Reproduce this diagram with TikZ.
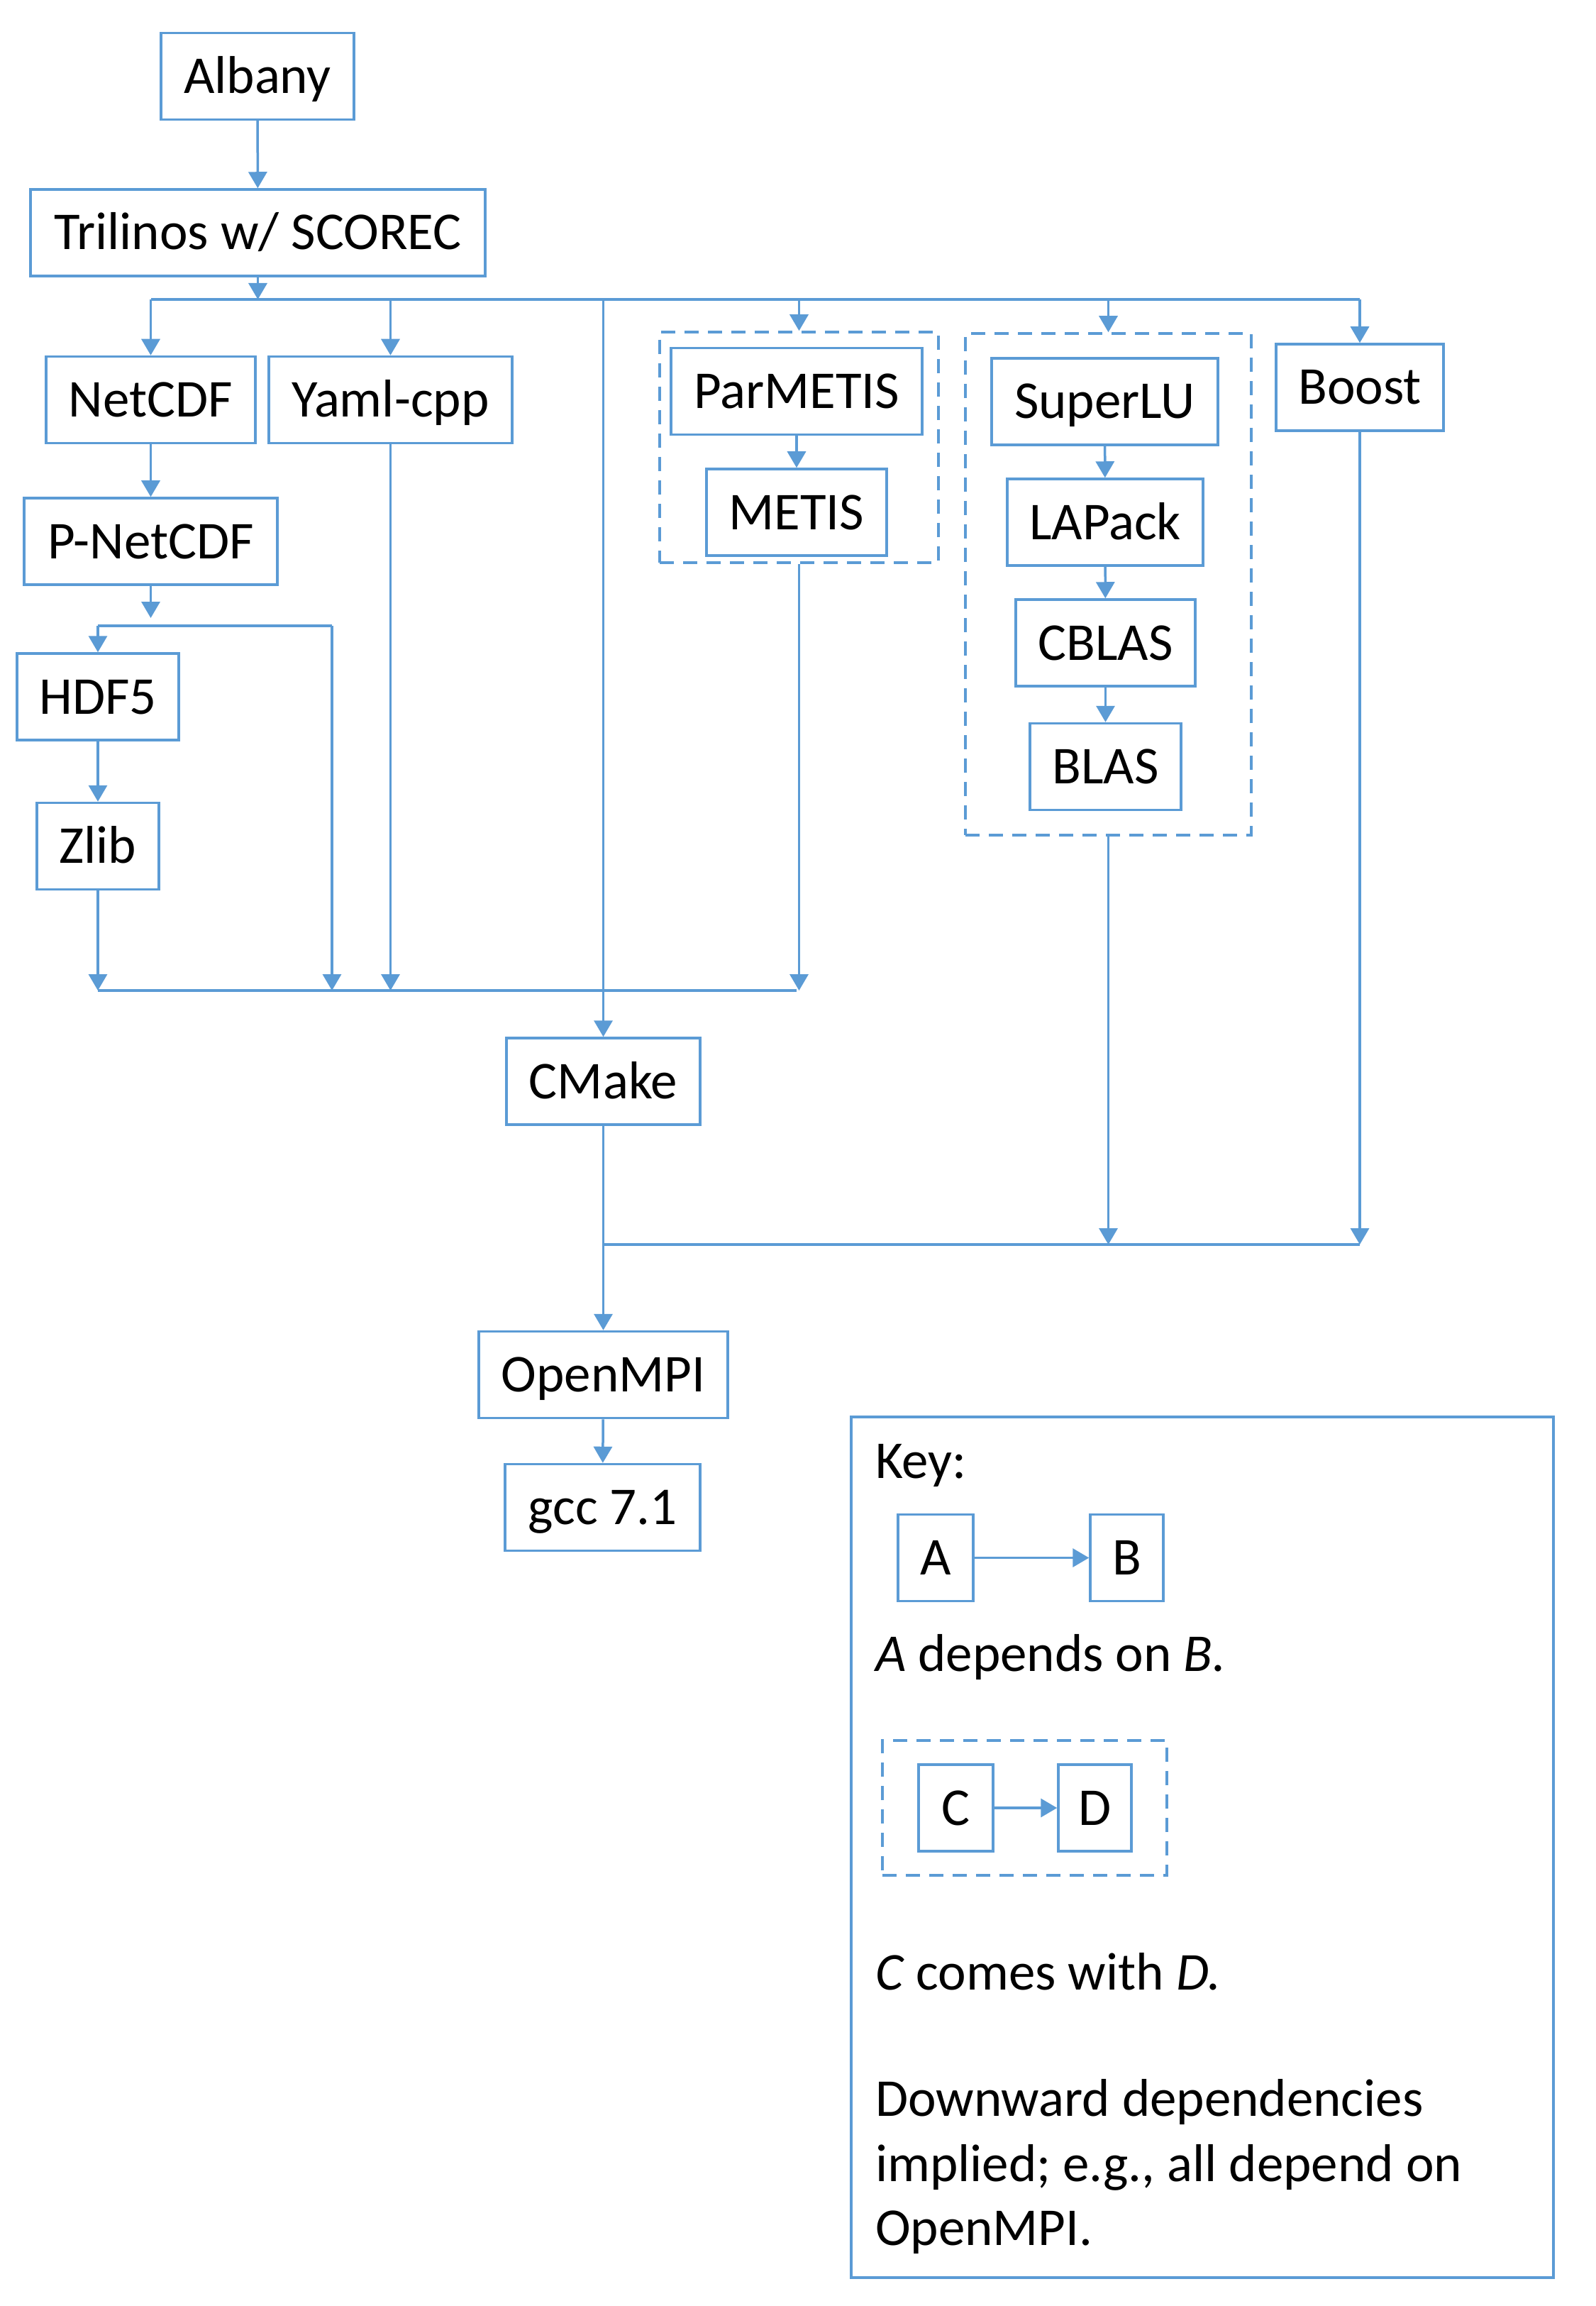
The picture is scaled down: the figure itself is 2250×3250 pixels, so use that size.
\documentclass[tikz,border=0pt]{standalone}
\usepackage{fontspec}
\setmainfont{Carlito}
\usetikzlibrary{arrows.meta}
\definecolor{kblue}{RGB}{91,155,213}
\tikzset{
  pkg/.style={draw=kblue, line width=0.7pt, inner sep=0pt, minimum height=24.4pt,
    font=\fontsize{15}{18}\selectfont, text height=9.6pt, text depth=0pt, fill=white},
  grp/.style={draw=kblue, line width=0.7pt, dash pattern=on 4pt off 2.6pt, inner sep=0pt},
  conn/.style={draw=kblue, line width=0.7pt},
  arr/.style={conn, -{Triangle[length=4.6pt,width=5.2pt]}},
  keytext/.style={anchor=base west, inner sep=0pt, font=\fontsize{15}{18}\selectfont}
}
\begin{document}
\begin{tikzpicture}[x=0.2pt,y=-0.2pt]
\fill[white] (0,0) rectangle (2250,3250);
\useasboundingbox (0,0) rectangle (2250,3250);

% groups (dashed)
\node[grp, minimum width=78.6pt, minimum height=65pt] (g1) at (1126.5,630.5) {};
\node[grp, minimum width=80.6pt, minimum height=141.4pt] (g2) at (1562.5,823.5) {};

% packages
\node[pkg, minimum width=54.4pt] (albany) at (363,107.5) {Albany};
\node[pkg, minimum width=128.2pt] (trilinos) at (363.5,328) {Trilinos w/ SCOREC};
\node[pkg, minimum width=59pt] (netcdf) at (212.5,563.5) {NetCDF};
\node[pkg, minimum width=68.6pt] (yaml) at (550.5,563.5) {Yaml-cpp};
\node[pkg, minimum width=71.4pt] (pnetcdf) at (212.5,763) {P-NetCDF};
\node[pkg, minimum width=45.6pt] (hdf5) at (138,982) {HDF5};
\node[pkg, minimum width=34.4pt] (zlib) at (138,1192.5) {Zlib};
\node[pkg, minimum width=70.8pt] (parmetis) at (1123,551.5) {ParMETIS};
\node[pkg, minimum width=50.8pt] (metis) at (1123,722) {METIS};
\node[pkg, minimum width=63.8pt] (superlu) at (1557.5,566) {SuperLU};
\node[pkg, minimum width=55.2pt] (lapack) at (1558,736) {LAPack};
\node[pkg, minimum width=50.6pt] (cblas) at (1558.5,906) {CBLAS};
\node[pkg, minimum width=42.6pt] (blas) at (1558.5,1080.5) {BLAS};
\node[pkg, minimum width=47.2pt] (boost) at (1917,546) {Boost};
\node[pkg, minimum width=54.6pt] (cmake) at (850.5,1524) {CMake};
\node[pkg, minimum width=70.2pt] (openmpi) at (850.5,1937.5) {OpenMPI};
\node[pkg, minimum width=55pt] (gcc) at (849.5,2124.5) {gcc 7.1};

% bus coordinates
\coordinate (bus1L) at (212.5,422);
\coordinate (bus1R) at (1917,422);
\coordinate (pn) at (212.5,871);
\coordinate (hL) at (138,882);
\coordinate (hR) at (468,882);
\coordinate (bus2L) at (138,1396);
\coordinate (bus2R) at (1123,1396);
\coordinate (bus3L) at (850.5,1754);
\coordinate (bus3R) at (1917,1754);

% connectors
\draw[arr] (albany) -- (trilinos);
\draw[arr] (trilinos.south) -- (trilinos.south |- bus1L);
\draw[conn] (bus1L) -- (bus1R);
\draw[arr] (bus1L) -- (netcdf.north);
\draw[arr] (yaml.north |- bus1L) -- (yaml.north);
\draw[arr] (cmake.north |- bus1L) -- (cmake.north);
\draw[arr] (g1.north |- bus1L) -- (g1.north);
\draw[arr] (g2.north |- bus1L) -- (g2.north);
\draw[arr] (bus1R) -- (boost.north);

\draw[arr] (parmetis) -- (metis);
\draw[arr] (superlu) -- (lapack);
\draw[arr] (lapack) -- (cblas);
\draw[arr] (cblas) -- (blas);

\draw[arr] (netcdf) -- (pnetcdf);
\draw[arr] (pnetcdf.south) -- (pn);
\draw[conn] (hL) -- (hR);
\draw[arr] (hL) -- (hdf5.north);
\draw[arr] (hdf5) -- (zlib);

\draw[conn] (bus2L) -- (bus2R);
\draw[arr] (zlib.south) -- (bus2L);
\draw[arr] (hR) -- (hR |- bus2L);
\draw[arr] (yaml.south) -- (yaml.south |- bus2L);
\draw[arr] (g1.south) -- (g1.south |- bus2L);

\draw[conn] (bus3L) -- (bus3R);
\draw[arr] (g2.south) -- (g2.south |- bus3R);
\draw[arr] (boost.south) -- (bus3R);
\draw[arr] (cmake) -- (openmpi);
\draw[arr] (openmpi) -- (gcc);

% key
\node[draw=kblue, line width=0.7pt, minimum width=198pt, minimum height=242.6pt, inner sep=0pt] (key) at (1695,2603.5) {};
\node[keytext] (keyt) at (1233,2083) {Key:};
\node[pkg, minimum width=21.2pt] (ka) at (1319,2195.5) {A};
\node[pkg, minimum width=20.6pt] (kb) at (1588.5,2195.5) {B};
\draw[arr] (ka) -- (kb);
\node[keytext] (dep) at (1233,2355) {\textit{A} depends on \textit{B.}};
\node[grp, minimum width=80.2pt, minimum height=38pt] (g3) at (1444.5,2548) {};
\node[pkg, minimum width=21pt] (kc) at (1347.5,2548) {C};
\node[pkg, minimum width=20.6pt] (kd) at (1543.5,2548) {D};
\draw[arr] (kc) -- (kd);
\node[keytext] (comes) at (1233,2804) {\textit{C} comes with \textit{D.}};
\node[keytext] (down1) at (1233,2982) {Downward dependencies};
\node[keytext] (down2) at (1233,3074) {implied; e.g., all depend on};
\node[keytext] (down3) at (1233,3164) {OpenMPI.};
\end{tikzpicture}
\end{document}
